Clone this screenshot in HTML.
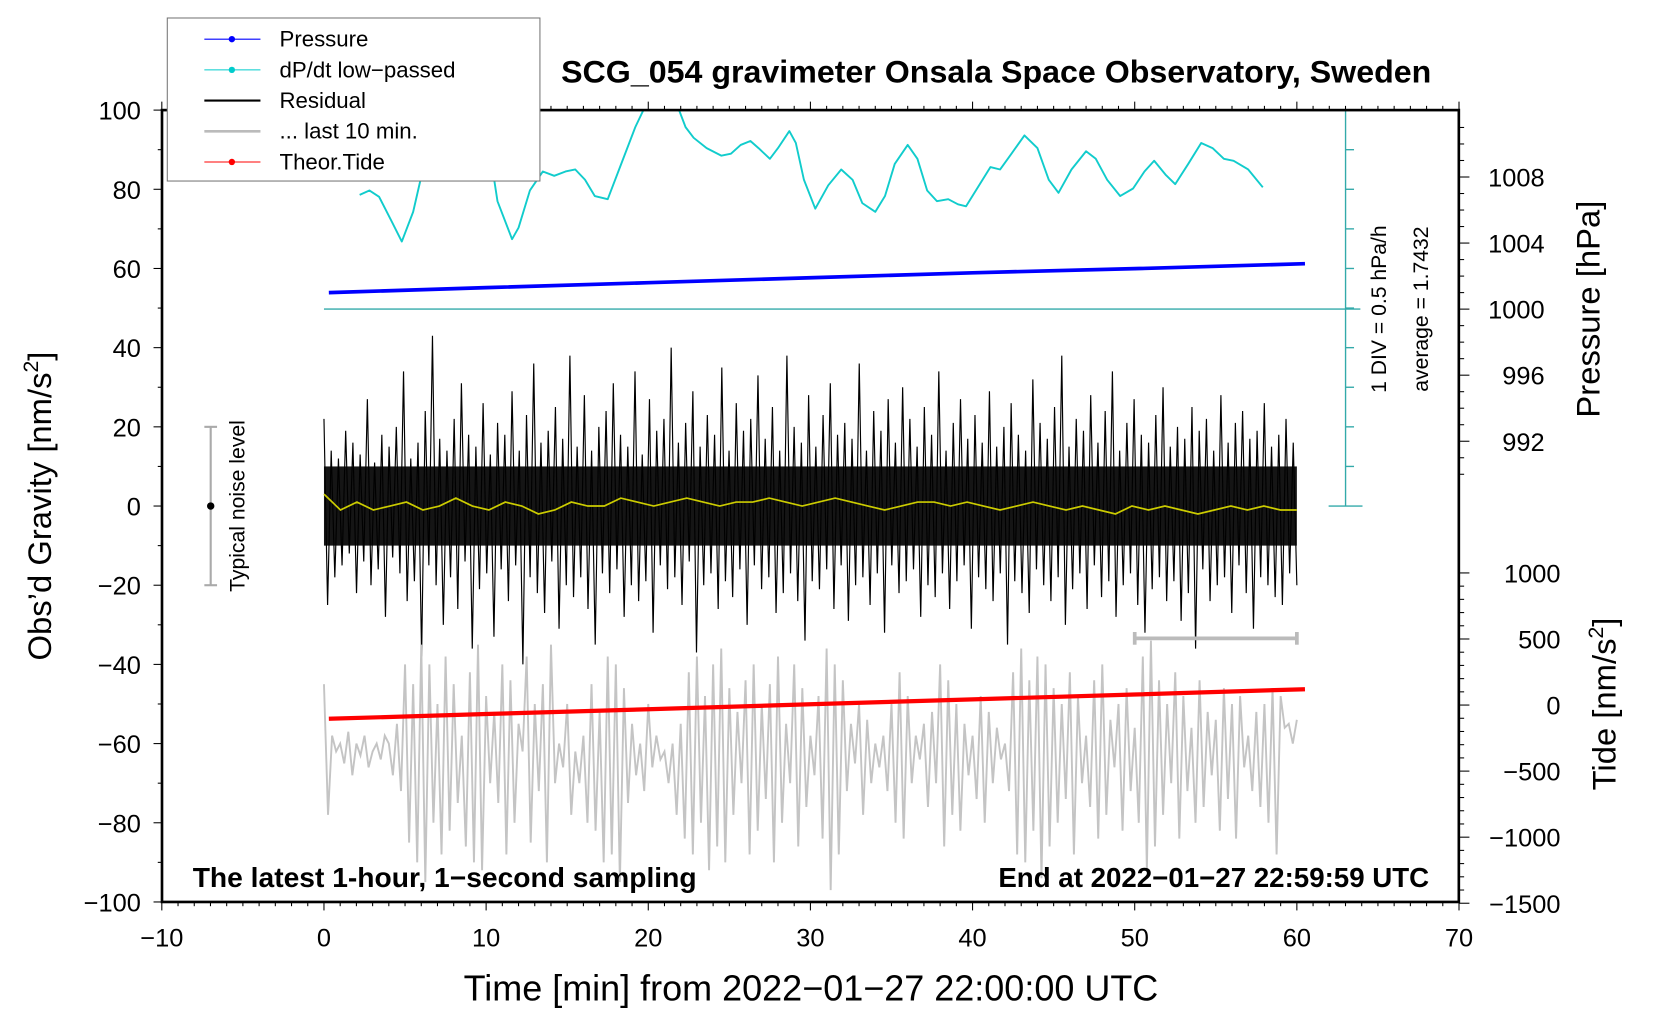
<!DOCTYPE html>
<html><head><meta charset="utf-8"><title>SCG_054 gravimeter</title>
<style>
html,body{margin:0;padding:0;background:#fff;}
svg{display:block;font-family:"Liberation Sans",Arial,sans-serif;}
</style></head>
<body>
<svg id="chart" width="1660" height="1020" viewBox="0 0 1568 963.5" xmlns="http://www.w3.org/2000/svg">
<defs><clipPath id="plotclip"><rect x="153" y="104" width="1225" height="748"/></clipPath></defs>
<g id="marks" clip-path="url(#plotclip)"></g>
<g id="axes"></g>
<g id="legend">
  <rect x="158" y="17" width="352" height="154" fill="#fff" stroke="#777" stroke-width="1"/>
  <g><line x1="193" y1="37" x2="246" y2="37" stroke="#00f" stroke-width="1"/><circle cx="219" cy="37" r="3" fill="#00f"/><text x="264" y="44" font-size="21">Pressure</text></g>
  <g><line x1="193" y1="66" x2="246" y2="66" stroke="#0cc" stroke-width="1"/><circle cx="219" cy="66" r="3" fill="#0cc"/><text x="264" y="73" font-size="21">dP/dt low−passed</text></g>
  <g><line x1="193" y1="95" x2="246" y2="95" stroke="#000" stroke-width="2"/><text x="264" y="102" font-size="21">Residual</text></g>
  <g><line x1="193" y1="124" x2="246" y2="124" stroke="#bbb" stroke-width="2.5"/><text x="264" y="131" font-size="21">... last 10 min.</text></g>
  <g><line x1="193" y1="153" x2="246" y2="153" stroke="#f00" stroke-width="1"/><circle cx="219" cy="153" r="3" fill="#f00"/><text x="264" y="160" font-size="21">Theor.Tide</text></g>
</g>
<text x="941" y="78" font-size="30" font-weight="bold" text-anchor="middle" textLength="822" lengthAdjust="spacingAndGlyphs">SCG_054 gravimeter Onsala Space Observatory, Sweden</text>
<text x="766" y="945" font-size="34" text-anchor="middle">Time [min] from 2022−01−27 22:00:00 UTC</text>
<text transform="translate(48,478) rotate(-90)" font-size="31" text-anchor="middle">Obs’d Gravity [nm/s<tspan font-size="20" dy="-12">2</tspan><tspan dy="12">]</tspan></text>
<text transform="translate(1511,292) rotate(-90)" font-size="31" text-anchor="middle">Pressure [hPa]</text>
<text transform="translate(1526,665) rotate(-90)" font-size="31" text-anchor="middle">Tide [nm/s<tspan font-size="20" dy="-12">2</tspan><tspan dy="12">]</tspan></text>
<text x="182" y="838" font-size="26" font-weight="bold" textLength="476" lengthAdjust="spacingAndGlyphs">The latest 1-hour, 1−second sampling</text>
<text x="943" y="838" font-size="26" font-weight="bold" textLength="407" lengthAdjust="spacingAndGlyphs">End at 2022−01−27 22:59:59 UTC</text>
<text transform="translate(1309,292) rotate(-90)" font-size="20" text-anchor="middle">1 DIV = 0.5 hPa/h</text>
<text transform="translate(1349,292) rotate(-90)" font-size="20" text-anchor="middle">average = 1.7432</text>
<text transform="translate(231,478) rotate(-90)" font-size="20" text-anchor="middle">Typical noise level</text>
<script>
// ---- data ----
const xTicks = [-10,0,10,20,30,40,50,60,70];
const yTicks = [100,80,60,40,20,0,-20,-40,-60,-80,-100];
const pTicks = [1008,1004,1000,996,992];
const tideTicks = [1000,500,0,-500,-1000,-1500];
const pressureTime = [0.3,10,20,30,40,50,60.5];
const pressureVals = [1001.0,1001.3,1001.6,1001.9,1002.2,1002.45,1002.75];
const tideTime = [0.3,10,20,30,40,50,60.5];
const tideVals = [-104,-68,-32,6,43,80,120];
const dpdtTime = [2.2,2.8,3.4,4.2,4.8,5.5,6.1,7.5,8.5,10.3,10.7,11.6,12.0,12.7,13.5,14.2,14.9,15.5,16.1,16.7,17.5,18.2,19.2,19.7,20.8,21.9,22.3,22.8,23.6,24.5,25.1,25.7,26.3,26.8,27.5,28.0,28.7,29.1,29.6,30.3,31.1,31.9,32.6,33.2,34.0,34.6,35.2,36.0,36.6,37.2,37.8,38.5,39.1,39.6,40.4,41.1,41.7,42.4,43.2,44.0,44.7,45.3,46.1,47.0,47.6,48.3,49.1,49.9,50.6,51.2,51.9,52.5,53.3,54.1,54.8,55.5,56.1,57.0,57.9];
const dpdtVals = [78.6,79.7,78.1,71.7,66.8,74.3,85.0,100,100,87.7,77.0,67.4,70.3,79.7,84.5,83.4,84.5,85.0,82.4,78.3,77.5,85.0,95.7,100,106,100,95.7,93.0,90.4,88.5,89.0,91.2,92.2,90.4,87.7,90.4,94.7,91.7,82.4,75.1,81.0,85.0,82.4,76.5,74.3,78.3,86.4,91.2,87.7,79.7,77.0,77.5,76.2,75.7,81.0,85.6,85.0,89.0,93.6,90.4,82.4,79.1,85.0,89.6,87.7,82.4,78.3,80.2,84.5,87.2,83.7,81.3,86.4,91.7,90.4,87.7,87.2,85.0,80.5];
const lastTenVals = [-45,-78,-58,-62,-60,-65,-57,-68,-60,-63,-58,-66,-62,-60,-64,-58,-60,-68,-55,-72,-40,-85,-45,-90,-35,-95,-40,-80,-50,-88,-38,-82,-45,-75,-58,-86,-42,-90,-35,-92,-48,-70,-52,-75,-40,-88,-44,-80,-55,-62,-38,-85,-50,-72,-45,-90,-35,-70,-60,-66,-50,-78,-62,-70,-58,-80,-45,-82,-52,-90,-38,-88,-40,-95,-46,-75,-55,-68,-60,-72,-50,-66,-58,-64,-62,-70,-60,-78,-55,-84,-42,-88,-38,-80,-48,-92,-40,-86,-36,-90,-46,-78,-52,-70,-44,-88,-40,-82,-50,-74,-45,-90,-38,-80,-55,-70,-40,-86,-46,-76,-58,-68,-48,-84,-36,-97,-40,-88,-44,-72,-55,-65,-50,-78,-54,-70,-60,-66,-58,-72,-50,-80,-42,-84,-48,-70,-58,-64,-55,-76,-52,-70,-40,-86,-44,-78,-50,-82,-55,-68,-58,-74,-48,-80,-52,-70,-56,-64,-60,-72,-42,-88,-36,-90,-44,-82,-38,-94,-40,-86,-46,-80,-50,-74,-42,-88,-48,-70,-58,-76,-44,-84,-40,-78,-54,-66,-50,-82,-46,-72,-56,-80,-38,-92,-34,-86,-44,-78,-50,-70,-42,-84,-48,-72,-56,-80,-44,-76,-52,-68,-54,-82,-46,-74,-50,-84,-48,-66,-58,-72,-52,-76,-50,-80,-46,-88,-48,-56,-55,-60,-54];
const residualVals = [22,-25,14,-18,12,-15,19,-12,16,-22,13,-14,27,-20,11,-16,18,-28,15,-13,20,-17,34,-24,12,-19,16,-38,24,-15,43,-20,17,-30,14,-18,22,-26,31,-14,18,-36,15,-21,26,-17,13,-33,21,-16,18,-24,29,-15,14,-40,23,-18,36,-22,16,-27,19,-14,25,-31,17,-20,38,-23,15,-18,28,-26,14,-35,20,-17,24,-22,31,-16,18,-28,15,-20,34,-24,13,-19,27,-32,19,-15,22,-21,40,-18,16,-25,21,-14,29,-37,15,-20,23,-17,18,-26,35,-19,14,-23,26,-16,19,-30,22,-15,33,-21,17,-18,25,-27,14,-22,38,-17,20,-24,16,-34,28,-19,15,-21,23,-16,31,-26,18,-15,21,-29,17,-20,36,-18,14,-25,24,-17,19,-32,27,-15,16,-22,30,-19,22,-16,15,-28,25,-20,18,-23,34,-17,14,-26,21,-19,27,-15,17,-31,23,-18,16,-21,29,-24,15,-17,20,-35,26,-19,18,-22,14,-27,32,-16,21,-20,17,-24,25,-18,38,-30,15,-21,22,-17,19,-26,28,-15,16,-23,24,-19,34,-28,14,-20,21,-17,27,-25,18,-32,16,-21,23,-18,30,-24,15,-19,20,-29,17,-22,25,-36,19,-16,22,-24,14,-20,28,-18,16,-27,21,-15,24,-22,17,-31,19,-18,26,-20,15,-23,18,-25,22,-17,16,-20];
const yellowVals = [3,-1,1,-1,0,1,-1,0,2,0,-1,1,0,-2,-1,1,0,0,2,1,0,1,2,1,0,1,1,2,1,0,1,2,1,0,-1,0,1,1,0,1,0,-1,0,1,0,-1,0,-1,-2,0,-1,0,-1,-2,-1,0,-1,0,-1,-1];
const coreBand = [-10,10];
const noiseLevel = [-20,20];
const lastTenRange = [50,60];
const cyanBarRange = [0,100];
const avgLine = 1000;

// ---- axis functions ----
const X = t => 306 + t*(1225-306)/60;
const Y = v => 478 - v*3.74;
const P = p => 292 - (p-1000)*15.6;
const T = v => 666 - v*0.1248;
const NS = "http://www.w3.org/2000/svg";
const marks = document.getElementById('marks');
const axes = document.getElementById('axes');
function mk(tag, attrs, parent){const e=document.createElementNS(NS,tag);for(const k in attrs)e.setAttribute(k,attrs[k]);parent.appendChild(e);return e;}

const band = mk('rect',{x:X(0),y:Y(coreBand[1]),width:X(60)-X(0),height:Y(coreBand[0])-Y(coreBand[1]),fill:'#151515'},marks);



let pts = residualVals.map((v,i)=>X(i*60/(residualVals.length-1))+','+Y(v)).join(' ');
const res = mk('polyline',{points:pts,fill:'none',stroke:'#000','stroke-width':1.1},marks);



pts = yellowVals.map((v,i)=>X(i*60/(yellowVals.length-1))+','+Y(v)).join(' ');
const yl = mk('polyline',{points:pts,fill:'none',stroke:'#cc0','stroke-width':1.6},marks);



pts = lastTenVals.map((v,i)=>X(i*60/(lastTenVals.length-1))+','+Y(v)).join(' ');
const gl = mk('polyline',{points:pts,fill:'none',stroke:'#c4c4c4','stroke-width':1.8},marks);



pts = tideTime.map((t,i)=>X(t)+','+T(tideVals[i])).join(' ');
const tl = mk('polyline',{points:pts,fill:'none',stroke:'#f00','stroke-width':4},marks);



pts = pressureTime.map((t,i)=>X(t)+','+P(pressureVals[i])).join(' ');
const pl = mk('polyline',{points:pts,fill:'none',stroke:'#00f','stroke-width':3.5},marks);



pts = dpdtTime.map((t,i)=>X(t)+','+Y(dpdtVals[i])).join(' ');
const cl = mk('polyline',{points:pts,fill:'none',stroke:'#1cc','stroke-width':1.8,'stroke-linejoin':'round'},marks);



const al = mk('line',{x1:X(0),y1:P(avgLine),x2:1285,y2:P(avgLine),stroke:'#3aa','stroke-width':1.3},axes);



const cb = mk('g',{stroke:'#3aa','stroke-width':1.3},axes);


mk('line',{x1:1271,y1:Y(cyanBarRange[1]),x2:1271,y2:Y(cyanBarRange[0])},cb);
mk('line',{x1:1255,y1:Y(cyanBarRange[1]),x2:1287,y2:Y(cyanBarRange[1])},cb);
mk('line',{x1:1255,y1:Y(cyanBarRange[0]),x2:1287,y2:Y(cyanBarRange[0])},cb);
for(let v=10;v<100;v+=10){mk('line',{x1:1271,y1:Y(v),x2:1279,y2:Y(v)},cb);}

const lb = mk('g',{stroke:'#bbb','stroke-width':3.5},axes);


mk('line',{x1:X(lastTenRange[0]),y1:603,x2:X(lastTenRange[1]),y2:603},lb);
mk('line',{x1:X(lastTenRange[0]),y1:597,x2:X(lastTenRange[0]),y2:609},lb);
mk('line',{x1:X(lastTenRange[1]),y1:597,x2:X(lastTenRange[1]),y2:609},lb);

const nb = mk('g',{stroke:'#aaa','stroke-width':2},axes);


mk('line',{x1:199,y1:Y(noiseLevel[1]),x2:199,y2:Y(noiseLevel[0])},nb);
mk('line',{x1:193,y1:Y(noiseLevel[1]),x2:205,y2:Y(noiseLevel[1])},nb);
mk('line',{x1:193,y1:Y(noiseLevel[0]),x2:205,y2:Y(noiseLevel[0])},nb);
mk('circle',{cx:199,cy:Y(0),r:3.5,fill:'#000',stroke:'none'},nb);

const fr = mk('rect',{x:153,y:104,width:1225,height:748,fill:'none',stroke:'#000','stroke-width':2.5},axes);



for(let t=-10;t<=70;t+=1){
  const major = t%10===0, len = major?8:4;
  mk('line',{x1:X(t),y1:852,x2:X(t),y2:852+len,stroke:'#000','stroke-width':1},axes);
  mk('line',{x1:X(t),y1:104,x2:X(t),y2:104-len,stroke:'#000','stroke-width':1},axes);
}
xTicks.forEach(t=>{
  const e = mk('text',{x:X(t),y:894,'font-size':24,'text-anchor':'middle'},axes);
  e.textContent = String(t).replace('-','−');
  
  
});
for(let v=-100;v<=100;v+=10){
  const len = v%20===0?8:4;
  mk('line',{x1:153,y1:Y(v),x2:153-len,y2:Y(v),stroke:'#000','stroke-width':1},axes);
}
yTicks.forEach(v=>{
  const e = mk('text',{x:133,y:Y(v)+9,'font-size':24,'text-anchor':'end'},axes);
  e.textContent = String(v).replace('-','−');
  
  
});
for(let p=990;p<=1011;p+=1){
  const len = p%4===0?10:5;
  mk('line',{x1:1378,y1:P(p),x2:1378+len,y2:P(p),stroke:'#000','stroke-width':1},axes);
}
pTicks.forEach(p=>{
  const e = mk('text',{x:1459,y:P(p)+9,'font-size':24,'text-anchor':'end'},axes);
  e.textContent = p;
  
  
});
for(let v=-1500;v<=1000;v+=100){
  const len = v%500===0?10:5;
  mk('line',{x1:1378,y1:T(v),x2:1378+len,y2:T(v),stroke:'#000','stroke-width':1},axes);
}
tideTicks.forEach(v=>{
  const e = mk('text',{x:1474,y:T(v)+9,'font-size':24,'text-anchor':'end'},axes);
  e.textContent = String(v).replace('-','−');
  
  
});
</script>
</svg>
</body></html>
